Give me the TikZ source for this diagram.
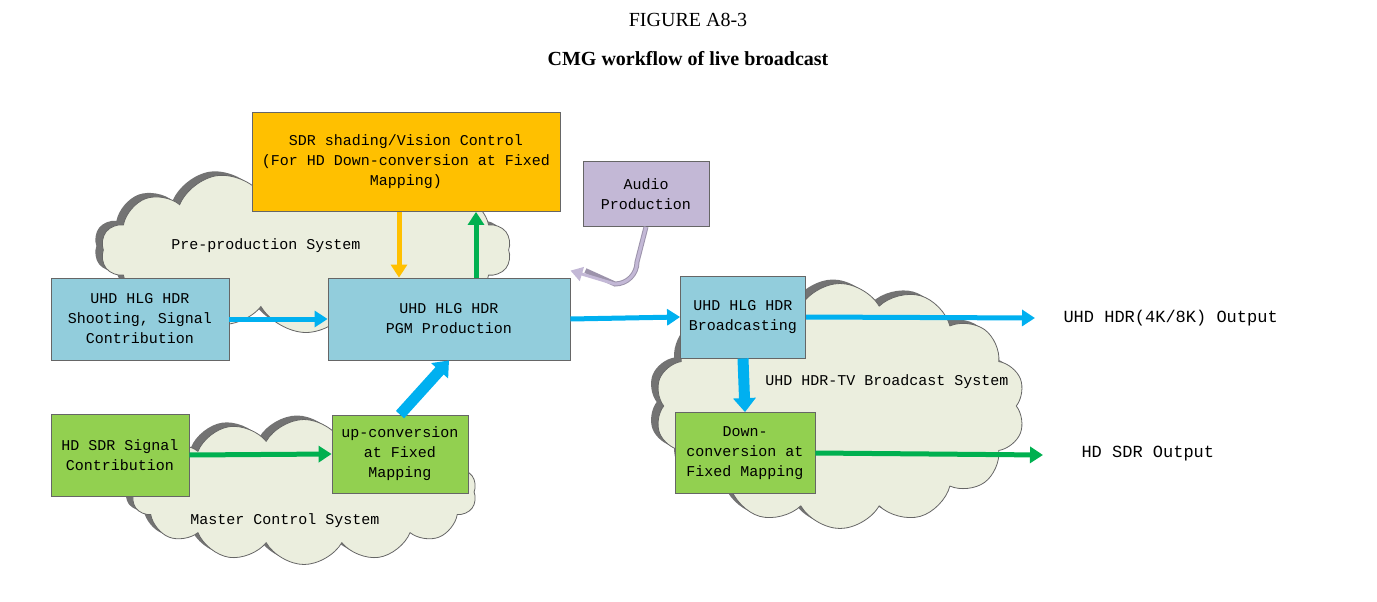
\documentclass[tikz,border=0pt]{standalone}
\usepackage{fontspec}
\setmainfont{Liberation Serif}
\newfontfamily\boxfont{Liberation Mono}
\usetikzlibrary{shapes.symbols,arrows.meta}
\definecolor{cloudf}{HTML}{EBEEDE}
\definecolor{bluebox}{HTML}{92CDDC}
\definecolor{greenbox}{HTML}{92D050}
\definecolor{orangebox}{HTML}{FFC000}
\definecolor{lilac}{HTML}{C3B8D6}
\definecolor{arrblue}{HTML}{00B0F0}
\definecolor{arrgreen}{HTML}{00B050}
\begin{document}
\begin{tikzpicture}[x=1pt,y=-1pt,
  box/.style={draw=black!60,line width=0.8pt,minimum width=#1,align=center,font=\boxfont\fontsize{15}{20}\selectfont,inner sep=0pt},
  cl/.style={cloud,cloud puffs=14,cloud puff arc=120,aspect=2.2,fill=cloudf,draw=black!60,line width=0.8pt,inner sep=0pt},
  sh/.style={cloud,cloud puffs=14,cloud puff arc=120,aspect=2.2,fill=black!55,draw=none,inner sep=0pt},
  ar/.style={draw=#1,line width=5pt,-{Triangle[length=13pt,width=16pt]}},
  fat/.style={draw=#1,line width=11pt,-{Triangle[length=14pt,width=22pt]}},
  lbl/.style={font=\boxfont\fontsize{15}{18}\selectfont}]
\useasboundingbox (0,0) rectangle (1377,602);
% clouds
\node[sh,minimum width=410,minimum height=165] at (299,246) {};
\node[cl,minimum width=410,minimum height=165] (c1) at (306,250) {};
\node[sh,minimum width=345,minimum height=145] at (297,488) {};
\node[cl,minimum width=345,minimum height=145] (c2) at (304,492) {};
\node[sh,minimum width=370,minimum height=245] at (833,402) {};
\node[cl,minimum width=370,minimum height=245] (c3) at (840,406) {};
\node[lbl] (t1) at (266,246) {Pre-production System};
\node[lbl] (t2) at (285,521) {Master Control System};
\node[lbl] (t3) at (887,382) {UHD HDR-TV Broadcast System};
% boxes
\node[box=308pt,minimum height=99pt,fill=orangebox] (sdr) at (406,162) {SDR shading/Vision Control\\(For HD Down-conversion at Fixed\\Mapping)};
\node[box=126pt,minimum height=65pt,fill=lilac] (aud) at (646,194) {Audio\\Production};
\node[box=178pt,minimum height=82pt,fill=bluebox] (shoot) at (140,319) {UHD HLG HDR\\Shooting, Signal\\Contribution};
\node[box=242pt,minimum height=82pt,fill=bluebox] (pgm) at (449,319) {UHD HLG HDR\\PGM Production};
\node[box=125pt,minimum height=82pt,fill=bluebox] (bc) at (743,317) {UHD HLG HDR\\Broadcasting};
\node[box=138pt,minimum height=82pt,fill=greenbox] (hd) at (120,455) {HD SDR Signal\\Contribution};
\node[box=136pt,minimum height=78pt,fill=greenbox] (up) at (400,454) {up-conversion\\at Fixed\\Mapping};
\node[box=140pt,minimum height=81pt,fill=greenbox] (down) at (745,453) {Down-\\conversion at\\Fixed Mapping};
\coordinate (o1) at (1035,318);
\coordinate (o2) at (1043,455);
\node[font=\boxfont\fontsize{17}{20}\selectfont,anchor=west] (u1) at (1060,318) {UHD HDR(4K/8K) Output};
\node[font=\boxfont\fontsize{17}{20}\selectfont,anchor=west] (u2) at (1078,454) {HD SDR Output};
% title
\node[font=\fontsize{20}{24}\selectfont] (f1) at (688,20) {FIGURE A8-3};
\node[font=\bfseries\fontsize{20}{24}\selectfont] (f2) at (688,59) {CMG workflow of live broadcast};
% arrows
\draw[ar=arrblue] (shoot.east) -- (pgm.west);
\draw[ar=arrblue] (pgm.east) -- (bc.west);
\draw[ar=arrblue] (bc.east) -- (o1);
\draw[ar=arrgreen] (hd.east) -- (up.west);
\draw[ar=arrgreen] (down.east) -- (o2);
\draw[fat=arrblue] (up.north) -- (pgm.south);
\draw[fat=arrblue] (bc.south) -- (down.north);
\draw[ar=orangebox] ([xshift=-7pt]sdr.south) -- ([xshift=-7pt]sdr.south |- pgm.north);
\draw[ar=arrgreen] (pgm.north -| 476,0) -- (sdr.south -| 476,0);
\draw[draw=lilac!80!black,line width=5pt] (aud.south) -- (637,262) arc (0:90:22) -- ([xshift=15pt,yshift=7pt]pgm.north east);
\draw[draw=lilac,line width=3pt,-{Triangle[length=12pt,width=14pt]}] (aud.south) -- (637,262) arc (0:90:22) -- ([yshift=7pt]pgm.north east);
\end{tikzpicture}
\end{document}
